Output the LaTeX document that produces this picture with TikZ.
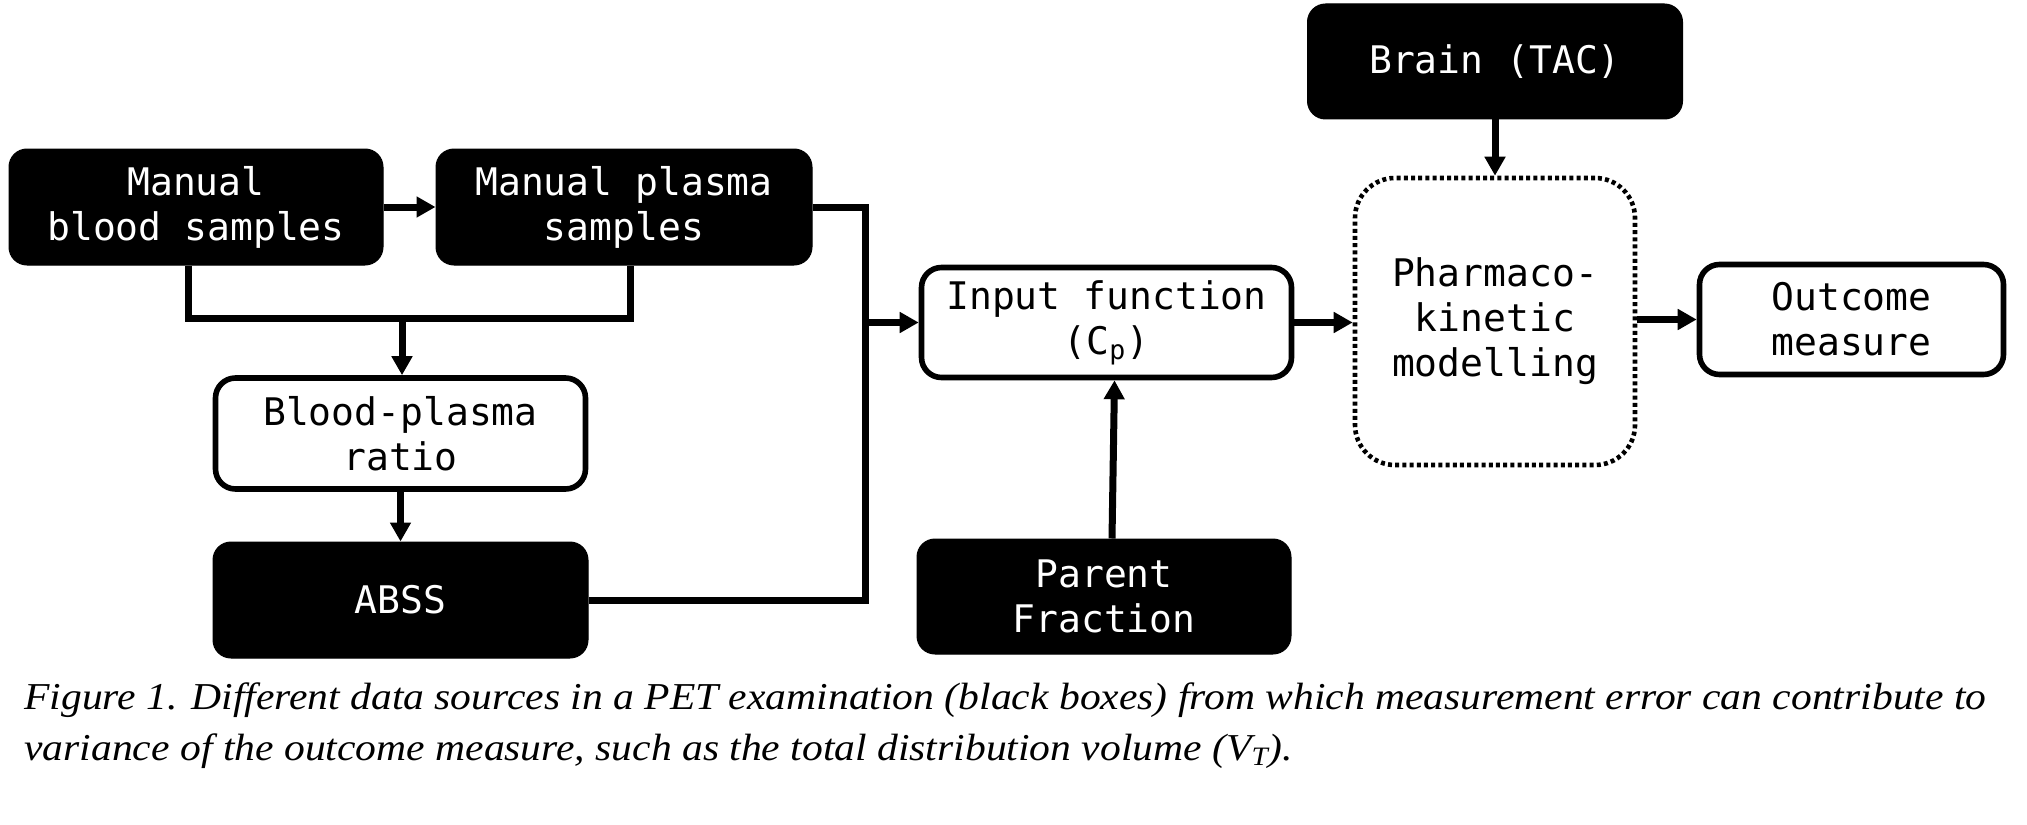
\documentclass[tikz,border=0pt]{standalone}
\usepackage{fontspec}
\usepackage{graphicx}
\setmainfont{Liberation Serif}
\setmonofont{DejaVu Sans Mono}
\usetikzlibrary{arrows.meta}
\begin{document}
\begin{tikzpicture}[x=0.5pt,y=-0.5pt,
  boxtext/.style={font=\ttfamily\fontsize{19pt}{22.5pt}\selectfont, align=center, inner sep=0pt},
  blackbox/.style={boxtext, rectangle, rounded corners=9pt, fill=black, draw=black, line width=0.5pt, text=white},
  whitebox/.style={boxtext, rectangle, rounded corners=10pt, fill=white, draw=black, line width=2.8pt},
  dotbox/.style={boxtext, rectangle, rounded corners=20pt, draw=black, line width=2.3pt, dash pattern=on 2pt off 1.6pt},
  conn/.style={line width=3.5pt, draw=black, line join=miter},
  arr/.style={conn, -{Triangle[length=9.5pt,width=10pt]}}
]
\useasboundingbox (0,0) rectangle (2027,824);
% nodes
\node[blackbox, minimum width=187pt, minimum height=58pt] (blood) at (196,207) {Manual\\blood samples};
\node[blackbox, minimum width=188pt, minimum height=58pt] (plasma) at (624,207) {Manual plasma\\samples};
\node[whitebox, minimum width=185pt, minimum height=55.5pt] (bp) at (400.5,433.5) {Blood-plasma\\ratio};
\node[blackbox, minimum width=187.5pt, minimum height=58pt] (abss) at (400.5,600) {ABSS};
\node[whitebox, minimum width=185pt, minimum height=55pt] (input) at (1106.5,322.5) {Input function\\(C\textsubscript{p})};
\node[blackbox, minimum width=187pt, minimum height=57.5pt] (pf) at (1104,596.5) {Parent\\Fraction};
\node[blackbox, minimum width=187.5pt, minimum height=57.5pt] (brain) at (1495,61.5) {Brain (TAC)};
\node[dotbox, minimum width=140pt, minimum height=143.5pt] (pharma) at (1495,321.5) {Pharmaco-\\kinetic\\modelling};
\node[whitebox, minimum width=152pt, minimum height=55pt] (outcome) at (1851.5,319.5) {Outcome\\measure};
% helper coordinates
\coordinate (vx) at (865,0);
\coordinate (bm) at (402,318);
% connectors
\draw[arr] (blood.east) -- (plasma.west);
\draw[conn] (plasma.east) -| (vx |- abss.east) -- (abss.east);
\draw[arr] (vx |- input.west) -- (input.west);
\draw[conn] ([xshift=-4pt]blood.south) |- (bm) -| ([xshift=3pt]plasma.south);
\draw[arr] (bm) -- (bm |- bp.north);
\draw[arr] (bp.south) -- (abss.north);
\draw[arr] ([xshift=4pt]pf.north) -- ([xshift=4pt]input.south);
\draw[arr] (brain.south) -- (pharma.north);
\draw[arr] (input.east) -- (input.east -| pharma.west);
\draw[arr] (pharma.east |- outcome.west) -- (outcome.west);
% caption
\node[anchor=base west, inner sep=0pt] (cap) at (24,709) {\resizebox{981pt}{\height}{\itshape\fontsize{19pt}{25.5pt}\selectfont\begin{tabular}[t]{@{}l@{}}Figure 1. Different data sources in a PET examination (black boxes) from which measurement error can contribute to\\variance of the outcome measure, such as the total distribution volume (V\textsubscript{T}).\end{tabular}}};
\end{tikzpicture}
\end{document}
